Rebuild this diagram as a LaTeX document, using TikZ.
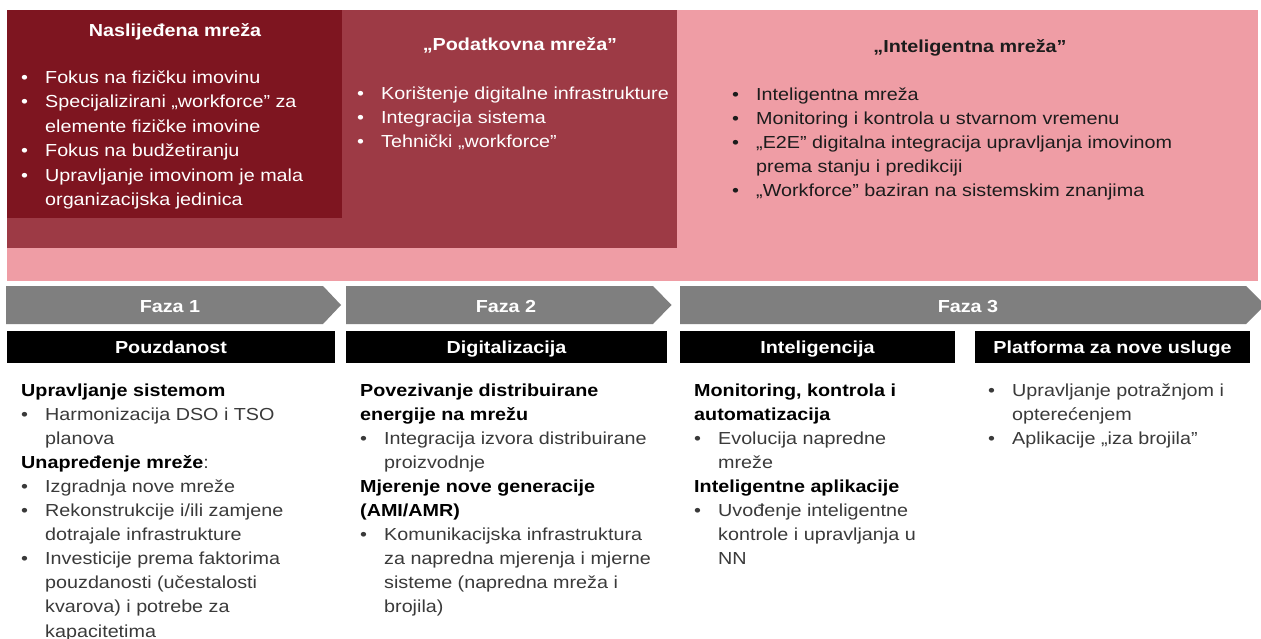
\documentclass[tikz,border=0pt]{standalone}
\usepackage{fontspec}
\setmainfont{Liberation Sans}[FakeStretch=1.135]
\definecolor{darkred}{HTML}{7E1520}
\definecolor{midred}{HTML}{9D3A45}
\definecolor{pinkbg}{HTML}{EF9DA5}
\definecolor{chev}{HTML}{7F7F7F}
\definecolor{bodytxt}{HTML}{3A3A3A}
\definecolor{darktxt}{HTML}{1C1C1C}
\newcommand{\bu}{\makebox[24pt][l]{\textbullet}}
\newcommand{\ii}{\hspace*{24pt}}
\newcommand{\hd}[1]{\textbf{\color{black}#1}}
\begin{document}
\begin{tikzpicture}[x=1pt,y=-1pt,
  txt/.style={anchor=north west, inner sep=0pt, align=left, font=\fontsize{17.4}{24.1}\selectfont},
  head/.style={anchor=base, inner sep=0pt, font=\fontsize{17.4}{24.1}\selectfont\bfseries},
  blackbox/.style={fill=black, text=white, inner sep=0pt, font=\fontsize{17.4}{20}\selectfont\bfseries, minimum height=32pt, text height=12.5pt, text depth=0pt},
  fazalbl/.style={anchor=base, inner sep=0pt, text=white, font=\fontsize{17.4}{20}\selectfont\bfseries}]
\useasboundingbox (0,0) rectangle (1261,639);
\fill[white] (0,0) rectangle (1261,639);
% top background bands
\fill[pinkbg] (7,10) rectangle (1258,281);
\fill[midred] (7,10) rectangle (677,248);
\fill[darkred] (7,10) rectangle (342,218);
% headers
\node[head, text=white] (h1) at (175,37) {Naslijeđena mreža};
\node[head, text=white] (h2) at (520,51) {„Podatkovna mreža”};
\node[head, text=darktxt] (h3) at (970,53) {„Inteligentna mreža”};
% top lists
\node[txt, text=white, font=\fontsize{17.4}{24.5}\selectfont] (l1) at (21,66) {\strut\bu Fokus na fizičku imovinu\\
\bu Specijalizirani „workforce” za\\
\ii elemente fizičke imovine\\
\bu Fokus na budžetiranju\\
\bu Upravljanje imovinom je mala\\
\ii organizacijska jedinica};
\node[txt, text=white] (l2) at (357,82) {\strut\bu Korištenje digitalne infrastrukture\\
\bu Integracija sistema\\
\bu Tehnički „workforce”};
\node[txt, text=darktxt, font=\fontsize{17.4}{23.9}\selectfont] (l3) at (732,84) {\strut\bu Inteligentna mreža\\
\bu Monitoring i kontrola u stvarnom vremenu\\
\bu „E2E” digitalna integracija upravljanja imovinom\\
\ii prema stanju i predikciji\\
\bu „Workforce” baziran na sistemskim znanjima};
% chevrons
\fill[chev] (6,286) -- (323,286) -- (341,305) -- (323,324) -- (6,324) -- cycle;
\fill[chev] (346,286) -- (653,286) -- (671.5,305) -- (653,324) -- (346,324) -- cycle;
\fill[chev] (680,286) -- (1246,286) -- (1265,305) -- (1246,324) -- (680,324) -- cycle;
\node[fazalbl] (f1) at (170,312) {Faza 1};
\node[fazalbl] (f2) at (506,312) {Faza 2};
\node[fazalbl] (f3) at (968,312) {Faza 3};
% black boxes
\node[blackbox, minimum width=328pt] (b1) at (171,347) {Pouzdanost};
\node[blackbox, minimum width=321pt] (b2) at (506.5,347) {Digitalizacija};
\node[blackbox, minimum width=275pt] (b3) at (817.5,347) {Inteligencija};
\node[blackbox, minimum width=275pt] (b4) at (1112.5,347) {Platforma za nove usluge};
% bottom lists
\node[txt, text=bodytxt] (c1) at (21,379) {\strut\hd{Upravljanje sistemom}\\
\bu Harmonizacija DSO i TSO\\
\ii planova\\
\hd{Unapređenje mreže}:\\
\bu Izgradnja nove mreže\\
\bu Rekonstrukcije i/ili zamjene\\
\ii dotrajale infrastrukture\\
\bu Investicije prema faktorima\\
\ii pouzdanosti (učestalosti\\
\ii kvarova) i potrebe za\\
\ii kapacitetima};
\node[txt, text=bodytxt] (c2) at (360,379) {\strut\hd{Povezivanje distribuirane}\\
\hd{energije na mrežu}\\
\bu Integracija izvora distribuirane\\
\ii proizvodnje\\
\hd{Mjerenje nove generacije}\\
\hd{(AMI/AMR)}\\
\bu Komunikacijska infrastruktura\\
\ii za napredna mjerenja i mjerne\\
\ii sisteme (napredna mreža i\\
\ii brojila)};
\node[txt, text=bodytxt] (c3) at (694,379) {\strut\hd{Monitoring, kontrola i}\\
\hd{automatizacija}\\
\bu Evolucija napredne\\
\ii mreže\\
\hd{Inteligentne aplikacije}\\
\bu Uvođenje inteligentne\\
\ii kontrole i upravljanja u\\
\ii NN};
\node[txt, text=bodytxt] (c4) at (988,379) {\strut\bu Upravljanje potražnjom i\\
\ii opterećenjem\\
\bu Aplikacije „iza brojila”};
\end{tikzpicture}
\end{document}
